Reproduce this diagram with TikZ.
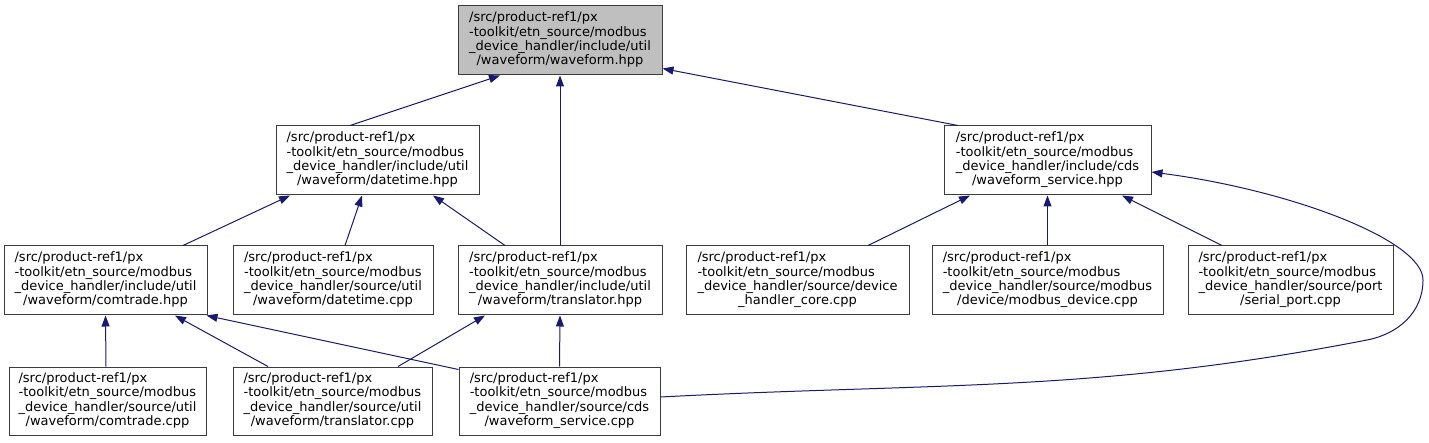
\documentclass[tikz,border=0pt]{standalone}
\usepackage{fontspec}
\setmainfont{DejaVu Sans}
\usetikzlibrary{arrows.meta}
\definecolor{edgeblue}{RGB}{25,25,112}
\definecolor{rootgray}{RGB}{191,191,191}
\definecolor{boxline}{RGB}{60,60,60}
\newcommand{\fourlines}[4]{\begin{tabular}{@{}l@{}}#1\\#2\\#3\\\multicolumn{1}{@{}c@{}}{#4}\end{tabular}}
\tikzset{
  filebox/.style={draw=boxline, line width=1pt, fill=white, minimum height=69pt, inner sep=0pt,
    font=\fontsize{13}{14.3}\selectfont},
  rootbox/.style={filebox, fill=rootgray},
  edge/.style={draw=edgeblue, line width=1pt, -{Triangle[length=11pt,width=8pt]}, edgeblue}
}
\begin{document}
\begin{tikzpicture}[x=1pt,y=-1pt]
\useasboundingbox (0,0) rectangle (1429,443);

\node[rootbox, minimum width=204pt] (wf_hpp) at (560,40.5)
  {\fourlines{/src/product-ref1/px}{-toolkit/etn\_source/modbus}{\_device\_handler/include/util}{/waveform/waveform.hpp}};
\node[filebox, minimum width=203pt] (dt_hpp) at (377.5,160.5)
  {\fourlines{/src/product-ref1/px}{-toolkit/etn\_source/modbus}{\_device\_handler/include/util}{/waveform/datetime.hpp}};
\node[filebox, minimum width=207pt] (ws_hpp) at (1047.5,160.5)
  {\fourlines{/src/product-ref1/px}{-toolkit/etn\_source/modbus}{\_device\_handler/include/cds}{/waveform\_service.hpp}};
\node[filebox, minimum width=203pt] (ct_hpp) at (105.5,280.5)
  {\fourlines{/src/product-ref1/px}{-toolkit/etn\_source/modbus}{\_device\_handler/include/util}{/waveform/comtrade.hpp}};
\node[filebox, minimum width=200pt] (dt_cpp) at (333,280.5)
  {\fourlines{/src/product-ref1/px}{-toolkit/etn\_source/modbus}{\_device\_handler/source/util}{/waveform/datetime.cpp}};
\node[filebox, minimum width=204pt] (tr_hpp) at (560,280.5)
  {\fourlines{/src/product-ref1/px}{-toolkit/etn\_source/modbus}{\_device\_handler/include/util}{/waveform/translator.hpp}};
\node[filebox, minimum width=223pt] (dhc_cpp) at (797.5,280.5)
  {\fourlines{/src/product-ref1/px}{-toolkit/etn\_source/modbus}{\_device\_handler/source/device}{\_handler\_core.cpp}};
\node[filebox, minimum width=231pt] (md_cpp) at (1047.5,280.5)
  {\fourlines{/src/product-ref1/px}{-toolkit/etn\_source/modbus}{\_device\_handler/source/modbus}{/device/modbus\_device.cpp}};
\node[filebox, minimum width=205pt] (sp_cpp) at (1290.5,280.5)
  {\fourlines{/src/product-ref1/px}{-toolkit/etn\_source/modbus}{\_device\_handler/source/port}{/serial\_port.cpp}};
\node[filebox, minimum width=197pt, minimum height=68pt] (ct_cpp) at (107.5,401)
  {\fourlines{/src/product-ref1/px}{-toolkit/etn\_source/modbus}{\_device\_handler/source/util}{/waveform/comtrade.cpp}};
\node[filebox, minimum width=199pt, minimum height=68pt] (tr_cpp) at (332.5,401)
  {\fourlines{/src/product-ref1/px}{-toolkit/etn\_source/modbus}{\_device\_handler/source/util}{/waveform/translator.cpp}};
\node[filebox, minimum width=201pt, minimum height=68pt] (ws_cpp) at (559.5,401)
  {\fourlines{/src/product-ref1/px}{-toolkit/etn\_source/modbus}{\_device\_handler/source/cds}{/waveform\_service.cpp}};

\coordinate (loopa) at (1367,340);
\coordinate (loopb) at (1423,280);

\draw[edge] ([xshift=-27.5pt]dt_hpp.north) -- ([xshift=-60pt]wf_hpp.south);
\draw[edge] (tr_hpp.north) -- (wf_hpp.south);
\draw[edge] ([xshift=-89.5pt]ws_hpp.north) -- ([yshift=7pt]wf_hpp.south east);
\draw[edge] ([xshift=77.5pt]ct_hpp.north) -- ([xshift=-87.5pt]dt_hpp.south);
\draw[edge] ([xshift=12pt]dt_cpp.north) -- ([xshift=-15.5pt]dt_hpp.south);
\draw[edge] ([xshift=-55pt]tr_hpp.north) -- ([xshift=55.5pt]dt_hpp.south);
\draw[edge] ([xshift=70.5pt]dhc_cpp.north) -- ([xshift=-77.5pt]ws_hpp.south);
\draw[edge] (md_cpp.north) -- (ws_hpp.south);
\draw[edge] ([xshift=-68.5pt]sp_cpp.north) -- ([xshift=74.5pt]ws_hpp.south);
\draw[edge] ([xshift=-1.5pt]ct_cpp.north) -- (ct_hpp.south);
\draw[edge] ([xshift=-64.5pt]tr_cpp.north) -- ([xshift=69.5pt]ct_hpp.south);
\draw[edge] ([yshift=-3pt]ws_cpp.north west) -- ([xshift=-1pt]ct_hpp.south east);
\draw[edge] ([xshift=65.5pt]tr_cpp.north) -- ([xshift=-75pt]tr_hpp.south);
\draw[edge] (ws_cpp.north) -- (tr_hpp.south);
\draw[edge] ([yshift=4pt]ws_cpp.east) to[out=3,in=191] (loopa) to[out=11,in=-90] (loopb)
  .. controls (1423,240) and (1290,190) .. ([yshift=-11.5pt]ws_hpp.east);
\end{tikzpicture}
\end{document}
